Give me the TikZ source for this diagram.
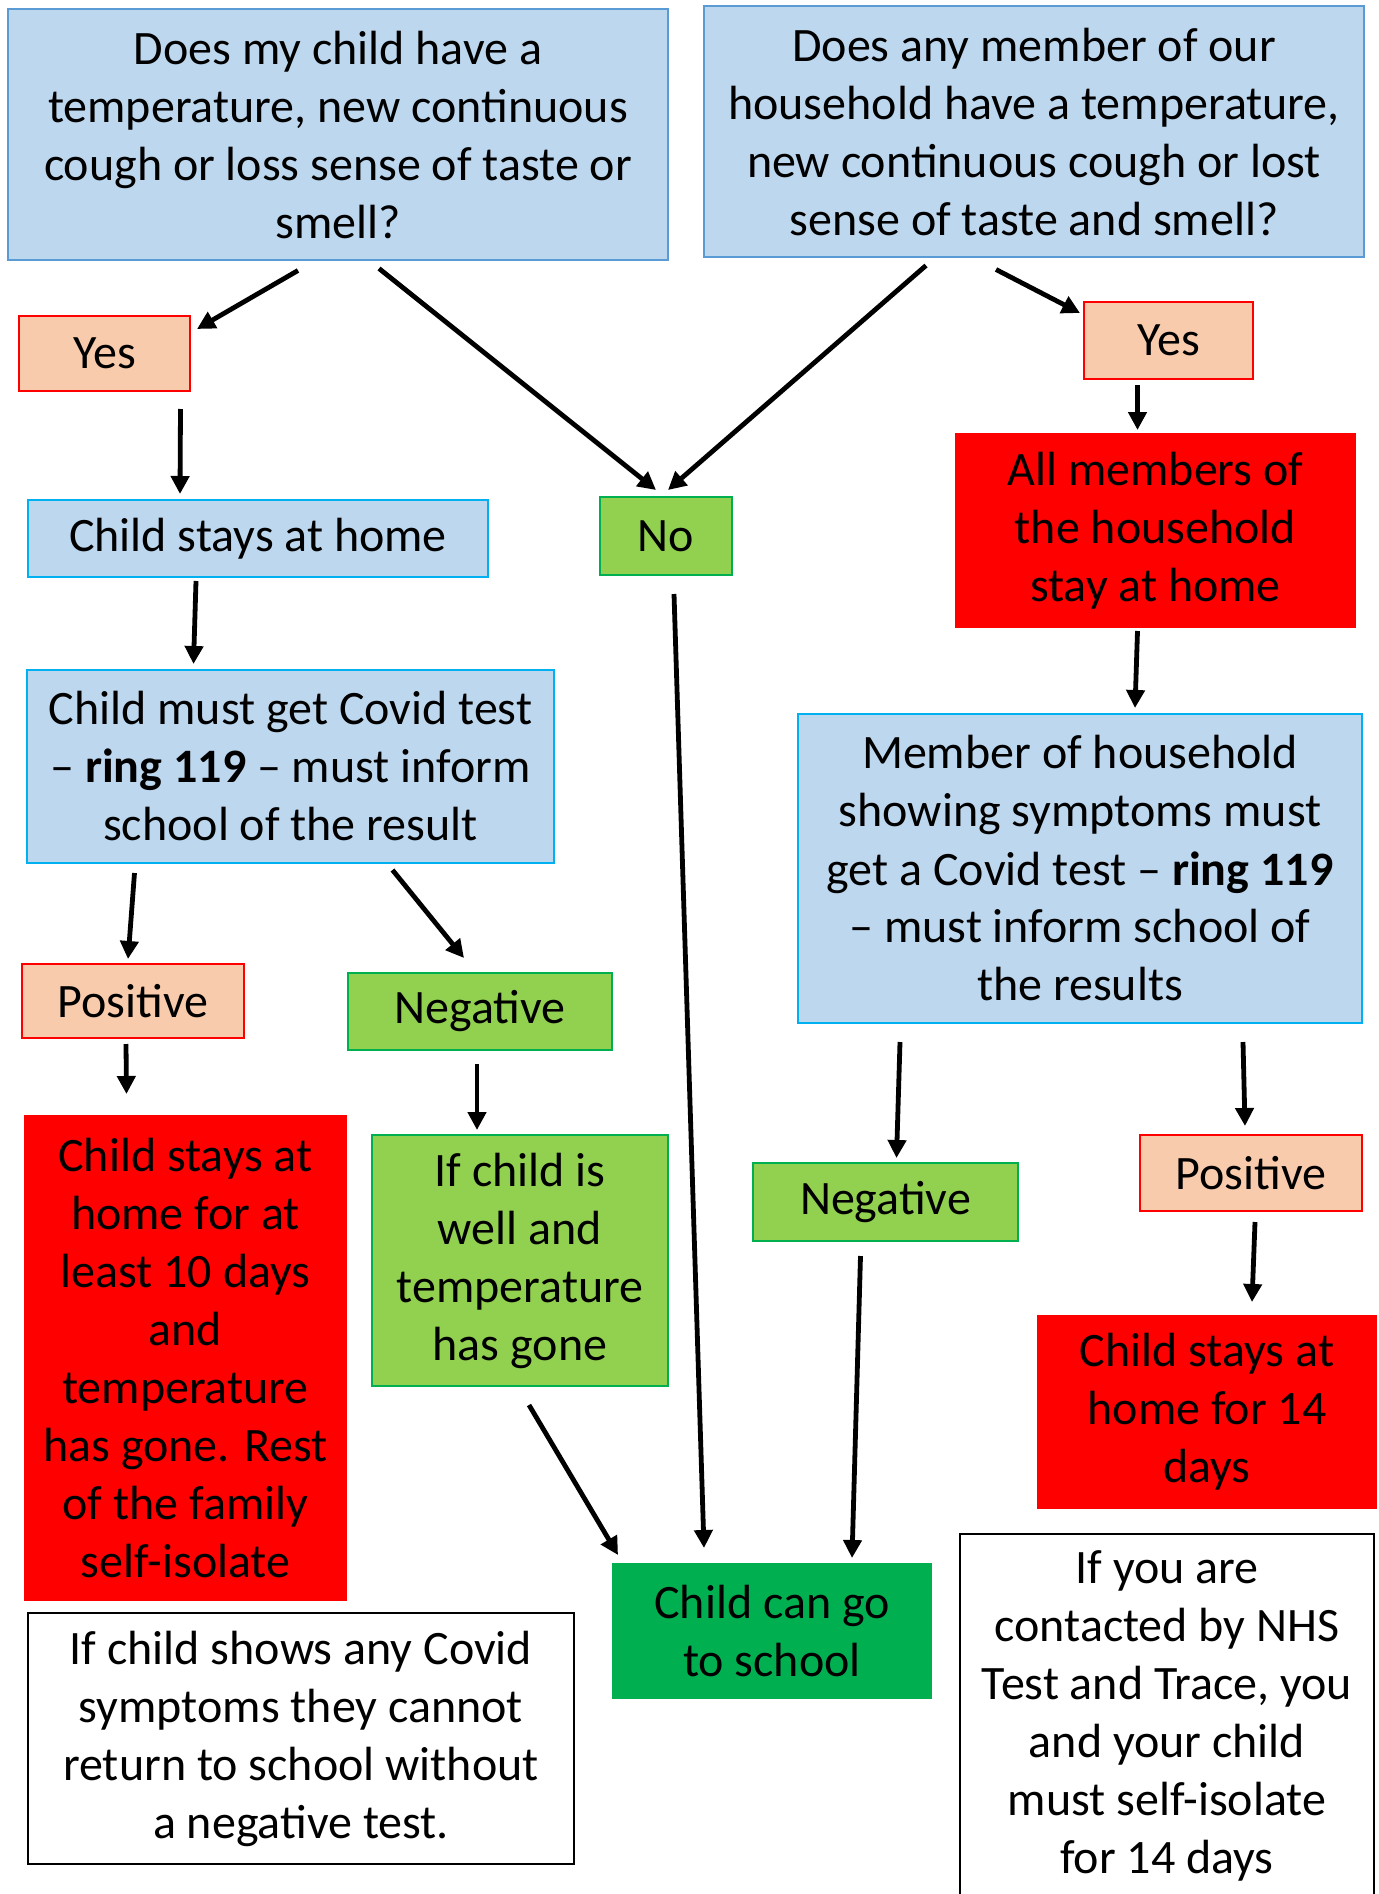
\documentclass[tikz,border=0pt]{standalone}
\usepackage{fontspec}
\setmainfont{Carlito}
\usepackage{xcolor}
\usetikzlibrary{arrows.meta,calc}
\definecolor{paleblue}{HTML}{BDD7EE}
\definecolor{qedge}{HTML}{5B9BD5}
\definecolor{cyanedge}{HTML}{00B0F0}
\definecolor{peach}{HTML}{F8CBAD}
\definecolor{lime}{HTML}{92D050}
\definecolor{darkgreen}{HTML}{00B050}
\tikzset{>={Triangle[length=9pt,width=9pt]},every node/.style={font=\fontsize{24}{29}\selectfont,
         align=center, inner sep=0pt}}
\tikzstyle{box}=[rectangle, line width=1pt]
\tikzstyle{qbox}=[box, fill=paleblue, draw=qedge]
\tikzstyle{bluebox}=[box, fill=paleblue, draw=cyanedge]
\tikzstyle{yesbox}=[box, fill=peach, draw=red]
\tikzstyle{greenbox}=[box, fill=lime, draw=darkgreen]
\tikzstyle{redbox}=[box, fill=red]
\tikzstyle{gobox}=[box, fill=darkgreen]
\tikzstyle{notebox}=[box, fill=white, draw=black]
\tikzstyle{arr}=[->, line width=2.4pt]

\begin{document}
\begin{tikzpicture}[x=0.5pt, y=-0.5pt]
  \useasboundingbox (0,0) rectangle (1379,1894);
  % questions
  \node[qbox, minimum width=330pt, minimum height=125.5pt] (childq) at (338,135)
    {Does my child have a\\temperature, new continuous\\cough or loss sense of taste or\\smell?};
  \node[qbox, minimum width=330pt, minimum height=125.5pt] (homeq) at (1034,132)
    {Does any member of our\\household have a temperature,\\new continuous cough or lost\\sense of taste and smell?};
  % answers
  \node[yesbox, minimum width=85.5pt, minimum height=37.5pt] (yes1) at (104.5,353.5) {Yes};
  \node[yesbox, minimum width=84.5pt, minimum height=38.5pt] (yes2) at (1168.5,340.5) {Yes};
  \node[greenbox, minimum width=66pt, minimum height=39pt] (no) at (666,536) {No};
  \node[bluebox, minimum width=230pt, minimum height=38.5pt] (stayhome) at (258,538.5)
    {Child stays at home};
  \node[redbox, minimum width=200.5pt, minimum height=97.5pt] (allhome) at (1155.5,530.5)
    {All members of\\the household\\stay at home};
  \node[bluebox, minimum width=263.5pt, minimum height=96.5pt] (childtest) at (290.5,766.5)
    {Child must get Covid test\\– \textbf{ring 119} – must inform\\school of the result};
  \node[bluebox, minimum width=282pt, minimum height=154.5pt] (membertest) at (1080,868.5)
    {Member of household\\showing symptoms must\\get a Covid test – \textbf{ring 119}\\– must inform school of\\the results};
  % results
  \node[yesbox, minimum width=111pt, minimum height=37pt] (pos1) at (133,1001) {Positive};
  \node[greenbox, minimum width=132pt, minimum height=38.5pt] (neg1) at (480,1011.5) {Negative};
  \node[greenbox, minimum width=132.5pt, minimum height=39pt] (neg2) at (885.5,1202) {Negative};
  \node[yesbox, minimum width=111pt, minimum height=38pt] (pos2) at (1251,1173) {Positive};
  \node[redbox, minimum width=161.5pt, minimum height=243pt] (stay10) at (185.5,1358)
    {Child stays at\\home for at\\least 10 days\\and\\temperature\\has gone. Rest\\of the family\\self-isolate};
  \node[greenbox, minimum width=148pt, minimum height=125.5pt] (well) at (520,1260.5)
    {If child is\\well and\\temperature\\has gone};
  \node[redbox, minimum width=170pt, minimum height=97pt] (stay14) at (1207,1412)
    {Child stays at\\home for 14\\days};
  \node[gobox, minimum width=160pt, minimum height=68pt] (school) at (772,1631)
    {Child can go\\to school};
  % notes
  \node[notebox, minimum width=273pt, minimum height=125.5pt] (note1) at (301,1738.5)
    {If child shows any Covid\\symptoms they cannot\\return to school without\\a negative test.};
  \node[notebox, minimum width=207pt, minimum height=182pt] (note2) at (1167,1716)
    {If you are\\contacted by NHS\\Test and Trace, you\\and your child\\must self-isolate\\for 14 days};
  % connectors
  \draw[arr] ($(childq.south)+(-40,9)$) -- ($(yes1.north east)+(6,14)$);
  \draw[arr] ($(childq.south)+(41,7)$) -- ($(no.north)+(-10,-6)$);
  \draw[arr] ($(homeq.south)+(-108,7)$) -- ($(no.north)+(2,-6)$);
  \draw[arr] ($(homeq.south)+(-38,11)$) -- ($(yes2.north west)+(-3,12)$);
  \draw[arr] ($(yes1.south)+(76,17)$) -- ($(stayhome.north)+(-78,-5)$);
  \draw[arr] ($(yes2.south)+(-31,5)$) -- ($(allhome.north)+(-18,-2)$);
  \draw[arr] ($(stayhome.south)+(-62,3)$) -- ($(childtest.north)+(-97,-5)$);
  \draw[arr] ($(allhome.south)+(-18,2)$) -- ($(membertest.north)+(55,-5)$);
  \draw[arr] ($(childtest.south)+(-156,9)$) -- ($(pos1.north)+(-5,-4)$);
  \draw[arr] ($(childtest.south)+(102,6)$) -- ($(neg1.north)+(-16,-14)$);
  \draw[arr] ($(pos1.south)+(-7,5)$) -- ($(stay10.north)+(-59,-20)$);
  \draw[arr] ($(neg1.south)+(-3,13)$) -- ($(well.north)+(-43,-4)$);
  \draw[arr] ($(no.south)+(8,18)$) -- ($(school.north)+(-68,-14)$);
  \draw[arr] ($(membertest.south)+(-180,18)$) -- ($(neg2.north)+(11,-4)$);
  \draw[arr] ($(membertest.south)+(163,18)$) -- ($(pos2.north)+(-6,-8)$);
  \draw[arr] ($(well.south)+(9,18)$) -- ($(school.north west)+(7,-7)$);
  \draw[arr] ($(neg2.south)+(-25,14)$) -- ($(school.north)+(80,-4)$);
  \draw[arr] ($(pos2.south)+(4,10)$) -- ($(stay14.north)+(45,-12)$);
\end{tikzpicture}
\end{document}
